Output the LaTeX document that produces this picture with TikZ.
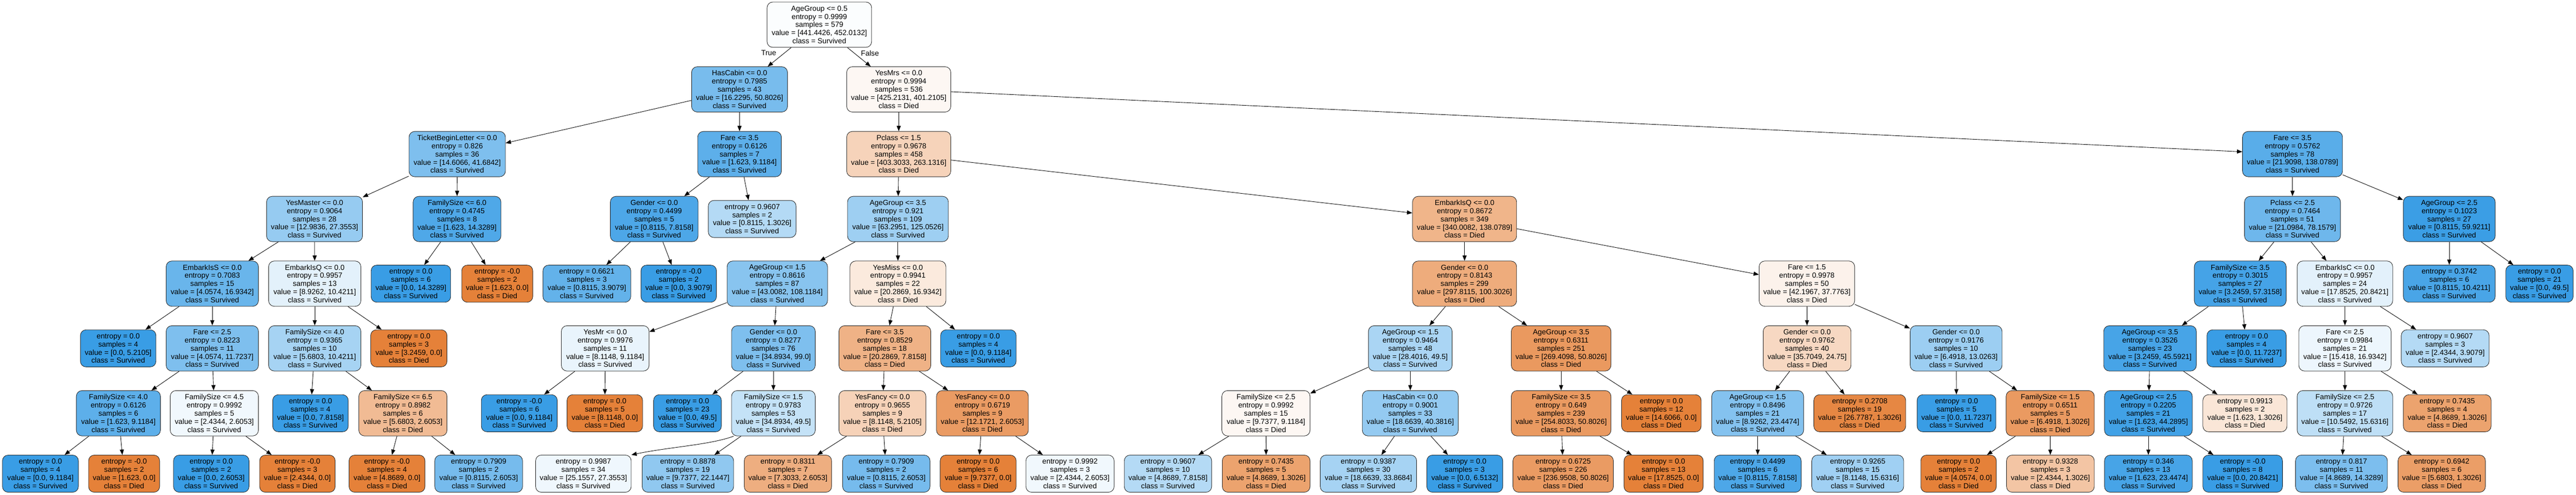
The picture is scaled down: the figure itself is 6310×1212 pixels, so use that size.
\documentclass[tikz,border=0pt]{standalone}
\usepackage{fontspec}
\setmainfont{Liberation Sans}
\usetikzlibrary{arrows.meta}
\definecolor{dd}{RGB}{229,129,57}
\definecolor{sv}{RGB}{57,157,229}
\tikzset{
  tbox/.style={draw=black!85, line width=1.1pt, rounded corners=14pt, align=center, inner sep=0pt, text=black, font=\fontsize{18}{20}\selectfont},
  ibox/.style={tbox, minimum height=111pt},
  lbox/.style={tbox, minimum height=91pt},
  edge/.style={line width=1.1pt, -{Triangle[length=13pt,width=10pt]}},
  elabel/.style={font=\fontsize{18}{20}\selectfont}
}
\newcommand\IN[6]{\node[ibox, minimum width={#3-#2}, fill=#5] (#1) at ({(#2+#3)/2},#4) {#6};}
\newcommand\LN[6]{\node[lbox, minimum width={#3-#2}, fill=#5] (#1) at ({(#2+#3)/2},#4) {#6};}
\begin{document}
\begin{tikzpicture}[x=1pt,y=-1pt]
\path[fill=white,use as bounding box] (0,0) rectangle (6310,1212);
% level 0
\IN{n0}{1879}{2135}{60.5}{sv!2}{AgeGroup <= 0.5\\entropy = 0.9999\\samples = 579\\value = [441.4426, 452.0132]\\class = Survived}
% level 1
\IN{n1}{1694}{1929}{219}{sv!68}{HasCabin <= 0.0\\entropy = 0.7985\\samples = 43\\value = [16.2295, 50.8026]\\class = Survived}
\IN{n2}{2074}{2329}{219}{dd!6}{YesMrs <= 0.0\\entropy = 0.9994\\samples = 536\\value = [425.2131, 401.2105]\\class = Died}
% level 2
\IN{n3}{1002}{1238}{377.5}{sv!65}{TicketBeginLetter <= 0.0\\entropy = 0.826\\samples = 36\\value = [14.6066, 41.6842]\\class = Survived}
\IN{n4}{1709}{1914}{377.5}{sv!82}{Fare <= 3.5\\entropy = 0.6126\\samples = 7\\value = [1.623, 9.1184]\\class = Survived}
\IN{n5}{2074}{2329}{377.5}{dd!35}{Pclass <= 1.5\\entropy = 0.9678\\samples = 458\\value = [403.3033, 263.1316]\\class = Died}
\IN{n6}{5493}{5738}{377.5}{sv!84}{Fare <= 3.5\\entropy = 0.5762\\samples = 78\\value = [21.9098, 138.0789]\\class = Survived}
% level 3
\IN{n7}{653}{888}{536.5}{sv!53}{YesMaster <= 0.0\\entropy = 0.9064\\samples = 28\\value = [12.9836, 27.3553]\\class = Survived}
\IN{n8}{1012}{1227}{536.5}{sv!89}{FamilySize <= 6.0\\entropy = 0.4745\\samples = 8\\value = [1.623, 14.3289]\\class = Survived}
\IN{n9}{1495}{1710}{536.5}{sv!90}{Gender <= 0.0\\entropy = 0.4499\\samples = 5\\value = [0.8115, 7.8158]\\class = Survived}
\LN{n10}{1735}{1950}{536.5}{sv!38}{entropy = 0.9607\\samples = 2\\value = [0.8115, 1.3026]\\class = Survived}
\IN{n11}{2076}{2323}{536.5}{sv!49}{AgeGroup <= 3.5\\entropy = 0.921\\samples = 109\\value = [63.2951, 125.0526]\\class = Survived}
\IN{n12}{3460}{3715}{536.5}{dd!59}{EmbarkIsQ <= 0.0\\entropy = 0.8672\\samples = 349\\value = [340.0082, 138.0789]\\class = Died}
\IN{n13}{5498}{5733}{536.5}{sv!73}{Pclass <= 2.5\\entropy = 0.7464\\samples = 51\\value = [21.0984, 78.1579]\\class = Survived}
\IN{n14}{5887}{6112}{536.5}{sv!99}{AgeGroup <= 2.5\\entropy = 0.1023\\samples = 27\\value = [0.8115, 59.9211]\\class = Survived}
% level 4
\IN{n15}{407}{633}{695}{sv!76}{EmbarkIsS <= 0.0\\entropy = 0.7083\\samples = 15\\value = [4.0574, 16.9342]\\class = Survived}
\IN{n16}{658}{884}{695}{sv!14}{EmbarkIsQ <= 0.0\\entropy = 0.9957\\samples = 13\\value = [8.9262, 10.4211]\\class = Survived}
\LN{n17}{909}{1104}{695}{sv}{entropy = 0.0\\samples = 6\\value = [0.0, 14.3289]\\class = Survived}
\LN{n18}{1131}{1305}{695}{dd}{entropy = -0.0\\samples = 2\\value = [1.623, 0.0]\\class = Died}
\LN{n19}{1330}{1545}{695}{sv!79}{entropy = 0.6621\\samples = 3\\value = [0.8115, 3.9079]\\class = Survived}
\LN{n20}{1570}{1755}{695}{sv}{entropy = -0.0\\samples = 2\\value = [0.0, 3.9079]\\class = Survived}
\IN{n21}{1781}{2027}{695}{sv!60}{AgeGroup <= 1.5\\entropy = 0.8616\\samples = 87\\value = [43.0082, 108.1184]\\class = Survived}
\IN{n22}{2082}{2317}{695}{dd!17}{YesMiss <= 0.0\\entropy = 0.9941\\samples = 22\\value = [20.2869, 16.9342]\\class = Died}
\IN{n23}{3460}{3715}{695}{dd!66}{Gender <= 0.0\\entropy = 0.8143\\samples = 299\\value = [297.8115, 100.3026]\\class = Died}
\IN{n24}{4309}{4543}{695}{dd!10}{Fare <= 1.5\\entropy = 0.9978\\samples = 50\\value = [42.1967, 37.7763]\\class = Died}
\IN{n25}{5375}{5600}{695}{sv!94}{FamilySize <= 3.5\\entropy = 0.3015\\samples = 27\\value = [3.2459, 57.3158]\\class = Survived}
\IN{n26}{5627}{5861}{695}{sv!14}{EmbarkIsC <= 0.0\\entropy = 0.9957\\samples = 24\\value = [17.8525, 20.8421]\\class = Survived}
\LN{n27}{5887}{6112}{695}{sv!92}{entropy = 0.3742\\samples = 6\\value = [0.8115, 10.4211]\\class = Survived}
\LN{n28}{6138}{6303}{695}{sv}{entropy = 0.0\\samples = 21\\value = [0.0, 49.5]\\class = Survived}
% level 5
\LN{n29}{197}{382}{853.5}{sv}{entropy = 0.0\\samples = 4\\value = [0.0, 5.2105]\\class = Survived}
\IN{n30}{407}{633}{853.5}{sv!65}{Fare <= 2.5\\entropy = 0.8223\\samples = 11\\value = [4.0574, 11.7237]\\class = Survived}
\IN{n31}{658}{884}{853.5}{sv!45}{FamilySize <= 4.0\\entropy = 0.9365\\samples = 10\\value = [5.6803, 10.4211]\\class = Survived}
\LN{n32}{908}{1095}{853.5}{dd}{entropy = 0.0\\samples = 3\\value = [3.2459, 0.0]\\class = Died}
\IN{n33}{1375}{1590}{853.5}{sv!11}{YesMr <= 0.0\\entropy = 0.9976\\samples = 11\\value = [8.1148, 9.1184]\\class = Survived}
\IN{n34}{1792}{1997}{853.5}{sv!65}{Gender <= 0.0\\entropy = 0.8277\\samples = 76\\value = [34.8934, 99.0]\\class = Survived}
\IN{n35}{2055}{2280}{853.5}{dd!61}{Fare <= 3.5\\entropy = 0.8529\\samples = 18\\value = [20.2869, 7.8158]\\class = Died}
\LN{n36}{2304}{2489}{853.5}{sv}{entropy = 0.0\\samples = 4\\value = [0.0, 9.1184]\\class = Survived}
\IN{n37}{3352}{3557}{853.5}{sv!43}{AgeGroup <= 1.5\\entropy = 0.9464\\samples = 48\\value = [28.4016, 49.5]\\class = Survived}
\IN{n38}{3702}{3946}{853.5}{dd!81}{AgeGroup <= 3.5\\entropy = 0.6311\\samples = 251\\value = [269.4098, 50.8026]\\class = Died}
\IN{n39}{4319}{4534}{853.5}{dd!31}{Gender <= 0.0\\entropy = 0.9762\\samples = 40\\value = [35.7049, 24.75]\\class = Died}
\IN{n40}{4679}{4904}{853.5}{sv!50}{Gender <= 0.0\\entropy = 0.9176\\samples = 10\\value = [6.4918, 13.0263]\\class = Survived}
\IN{n41}{5153}{5380}{853.5}{sv!93}{AgeGroup <= 3.5\\entropy = 0.3526\\samples = 23\\value = [3.2459, 45.5921]\\class = Survived}
\LN{n42}{5406}{5600}{853.5}{sv}{entropy = 0.0\\samples = 4\\value = [0.0, 11.7237]\\class = Survived}
\IN{n43}{5631}{5857}{853.5}{sv!9}{Fare <= 2.5\\entropy = 0.9984\\samples = 21\\value = [15.418, 16.9342]\\class = Survived}
\LN{n44}{5882}{6097}{853.5}{sv!38}{entropy = 0.9607\\samples = 3\\value = [2.4344, 3.9079]\\class = Survived}
% level 6
\IN{n45}{187}{393}{1012.5}{sv!82}{FamilySize <= 4.0\\entropy = 0.6126\\samples = 6\\value = [1.623, 9.1184]\\class = Survived}
\IN{n46}{417}{633}{1012.5}{sv!7}{FamilySize <= 4.5\\entropy = 0.9992\\samples = 5\\value = [2.4344, 2.6053]\\class = Survived}
\LN{n47}{668}{853}{1012.5}{sv}{entropy = 0.0\\samples = 4\\value = [0.0, 7.8158]\\class = Survived}
\IN{n48}{879}{1095}{1012.5}{dd!54}{FamilySize <= 6.5\\entropy = 0.8982\\samples = 6\\value = [5.6803, 2.6053]\\class = Died}
\LN{n49}{1179}{1365}{1012.5}{sv}{entropy = -0.0\\samples = 6\\value = [0.0, 9.1184]\\class = Survived}
\LN{n50}{1389}{1574}{1012.5}{dd}{entropy = 0.0\\samples = 5\\value = [8.1148, 0.0]\\class = Died}
\LN{n51}{1601}{1767}{1012.5}{sv}{entropy = 0.0\\samples = 23\\value = [0.0, 49.5]\\class = Survived}
\IN{n52}{1792}{1997}{1012.5}{sv!30}{FamilySize <= 1.5\\entropy = 0.9783\\samples = 53\\value = [34.8934, 49.5]\\class = Survived}
\IN{n53}{2055}{2268}{1012.5}{dd!36}{YesFancy <= 0.0\\entropy = 0.9655\\samples = 9\\value = [8.1148, 5.2105]\\class = Died}
\IN{n54}{2294}{2519}{1012.5}{dd!79}{YesFancy <= 0.0\\entropy = 0.6719\\samples = 9\\value = [12.1721, 2.6053]\\class = Died}
\IN{n55}{2993}{3209}{1012.5}{dd!6}{FamilySize <= 2.5\\entropy = 0.9992\\samples = 15\\value = [9.7377, 9.1184]\\class = Died}
\IN{n56}{3337}{3572}{1012.5}{sv!54}{HasCabin <= 0.0\\entropy = 0.9001\\samples = 33\\value = [18.6639, 40.3816]\\class = Survived}
\IN{n57}{3702}{3946}{1012.5}{dd!80}{FamilySize <= 3.5\\entropy = 0.649\\samples = 239\\value = [254.8033, 50.8026]\\class = Died}
\LN{n58}{3972}{4167}{1012.5}{dd}{entropy = 0.0\\samples = 12\\value = [14.6066, 0.0]\\class = Died}
\IN{n59}{4193}{4418}{1012.5}{sv!62}{AgeGroup <= 1.5\\entropy = 0.8496\\samples = 21\\value = [8.9262, 23.4474]\\class = Survived}
\LN{n60}{4443}{4668}{1012.5}{dd!95}{entropy = 0.2708\\samples = 19\\value = [26.7787, 1.3026]\\class = Died}
\LN{n61}{4696}{4889}{1012.5}{sv}{entropy = 0.0\\samples = 5\\value = [0.0, 11.7237]\\class = Survived}
\IN{n62}{4914}{5130}{1012.5}{dd!80}{FamilySize <= 1.5\\entropy = 0.6511\\samples = 5\\value = [6.4918, 1.3026]\\class = Died}
\IN{n63}{5155}{5370}{1012.5}{sv!96}{AgeGroup <= 2.5\\entropy = 0.2205\\samples = 21\\value = [1.623, 44.2895]\\class = Survived}
\LN{n64}{5396}{5602}{1012.5}{dd!20}{entropy = 0.9913\\samples = 2\\value = [1.623, 1.3026]\\class = Died}
\IN{n65}{5627}{5861}{1012.5}{sv!33}{FamilySize <= 2.5\\entropy = 0.9726\\samples = 17\\value = [10.5492, 15.6316]\\class = Survived}
\LN{n66}{5887}{6102}{1012.5}{dd!73}{entropy = 0.7435\\samples = 4\\value = [4.8689, 1.3026]\\class = Died}
% level 7
\LN{n67}{6}{192}{1160.5}{sv}{entropy = 0.0\\samples = 4\\value = [0.0, 9.1184]\\class = Survived}
\LN{n68}{217}{391}{1160.5}{dd}{entropy = -0.0\\samples = 2\\value = [1.623, 0.0]\\class = Died}
\LN{n69}{425}{610}{1160.5}{sv}{entropy = 0.0\\samples = 2\\value = [0.0, 2.6053]\\class = Survived}
\LN{n70}{636}{821}{1160.5}{dd}{entropy = -0.0\\samples = 3\\value = [2.4344, 0.0]\\class = Died}
\LN{n71}{855}{1041}{1160.5}{dd}{entropy = -0.0\\samples = 4\\value = [4.8689, 0.0]\\class = Died}
\LN{n72}{1065}{1280}{1160.5}{sv!69}{entropy = 0.7909\\samples = 2\\value = [0.8115, 2.6053]\\class = Survived}
\LN{n73}{1312}{1546}{1160.5}{sv!8}{entropy = 0.9987\\samples = 34\\value = [25.1557, 27.3553]\\class = Survived}
\LN{n74}{1573}{1797}{1160.5}{sv!56}{entropy = 0.8878\\samples = 19\\value = [9.7377, 22.1447]\\class = Survived}
\LN{n75}{1823}{2037}{1160.5}{dd!64}{entropy = 0.8311\\samples = 7\\value = [7.3033, 2.6053]\\class = Died}
\LN{n76}{2064}{2278}{1160.5}{sv!69}{entropy = 0.7909\\samples = 2\\value = [0.8115, 2.6053]\\class = Survived}
\LN{n77}{2303}{2489}{1160.5}{dd}{entropy = 0.0\\samples = 6\\value = [9.7377, 0.0]\\class = Died}
\LN{n78}{2513}{2729}{1160.5}{sv!7}{entropy = 0.9992\\samples = 3\\value = [2.4344, 2.6053]\\class = Survived}
\LN{n79}{2754}{2968}{1160.5}{sv!38}{entropy = 0.9607\\samples = 10\\value = [4.8689, 7.8158]\\class = Survived}
\LN{n80}{2994}{3209}{1160.5}{dd!73}{entropy = 0.7435\\samples = 5\\value = [4.8689, 1.3026]\\class = Died}
\LN{n81}{3234}{3470}{1160.5}{sv!45}{entropy = 0.9387\\samples = 30\\value = [18.6639, 33.8684]\\class = Survived}
\LN{n82}{3495}{3681}{1160.5}{sv}{entropy = 0.0\\samples = 3\\value = [0.0, 6.5132]\\class = Survived}
\LN{n83}{3706}{3952}{1160.5}{dd!79}{entropy = 0.6725\\samples = 226\\value = [236.9508, 50.8026]\\class = Died}
\LN{n84}{3978}{4172}{1160.5}{dd}{entropy = 0.0\\samples = 13\\value = [17.8525, 0.0]\\class = Died}
\LN{n85}{4199}{4412}{1160.5}{sv!90}{entropy = 0.4499\\samples = 6\\value = [0.8115, 7.8158]\\class = Survived}
\LN{n86}{4438}{4663}{1160.5}{sv!48}{entropy = 0.9265\\samples = 15\\value = [8.1148, 15.6316]\\class = Survived}
\LN{n87}{4705}{4890}{1160.5}{dd}{entropy = 0.0\\samples = 2\\value = [4.0574, 0.0]\\class = Died}
\LN{n88}{4915}{5130}{1160.5}{dd!46}{entropy = 0.9328\\samples = 3\\value = [2.4344, 1.3026]\\class = Died}
\LN{n89}{5155}{5370}{1160.5}{sv!93}{entropy = 0.346\\samples = 13\\value = [1.623, 23.4474]\\class = Survived}
\LN{n90}{5396}{5591}{1160.5}{sv}{entropy = -0.0\\samples = 8\\value = [0.0, 20.8421]\\class = Survived}
\LN{n91}{5623}{5848}{1160.5}{sv!66}{entropy = 0.817\\samples = 11\\value = [4.8689, 14.3289]\\class = Survived}
\LN{n92}{5874}{6088}{1160.5}{dd!77}{entropy = 0.6942\\samples = 6\\value = [5.6803, 1.3026]\\class = Died}
% edge labels
\node[elabel] (lt) at (1883,130) {True};
\node[elabel] (lf) at (2131,130) {False};
% edges
\foreach \a/\b in {n0/n1,n0/n2,n1/n3,n1/n4,n2/n5,n2/n6,n3/n7,n3/n8,n4/n9,n4/n10,
  n5/n11,n5/n12,n6/n13,n6/n14,n7/n15,n7/n16,n8/n17,n8/n18,n9/n19,n9/n20,
  n11/n21,n11/n22,n12/n23,n12/n24,n13/n25,n13/n26,n14/n27,n14/n28,
  n15/n29,n15/n30,n16/n31,n16/n32,n21/n33,n21/n34,n22/n35,n22/n36,
  n23/n37,n23/n38,n24/n39,n24/n40,n25/n41,n25/n42,n26/n43,n26/n44,
  n30/n45,n30/n46,n31/n47,n31/n48,n33/n49,n33/n50,n34/n51,n52/n74,
  n35/n53,n35/n54,n37/n55,n37/n56,n38/n57,n38/n58,n39/n59,n39/n60,
  n40/n61,n40/n62,n41/n63,n41/n64,n43/n65,n43/n66,n45/n67,n45/n68,
  n46/n69,n46/n70,n48/n71,n48/n72,n53/n75,n53/n76,n54/n77,n54/n78,
  n55/n79,n55/n80,n56/n81,n56/n82,n57/n83,n57/n84,n59/n85,n59/n86,
  n62/n87,n62/n88,n63/n89,n63/n90,n65/n91,n65/n92}
  {\draw[edge] (\a) -- (\b);}
\draw[edge] (n34) -- (n52);
\draw[edge] (n52.210) .. controls (1740,1090) and (1640,1095) .. (n73.north east);
\end{tikzpicture}
\end{document}
